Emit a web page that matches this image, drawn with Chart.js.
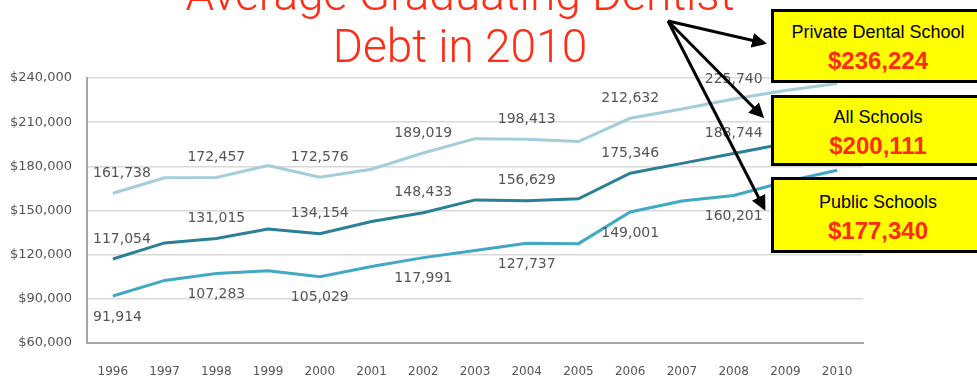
<!DOCTYPE html>
<html>
<head>
<meta charset="utf-8">
<script src="https://cdn.jsdelivr.net/npm/chart.js@4/dist/chart.umd.min.js"></script>
<style>
  html, body { margin: 0; padding: 0; background: #fff; }
  #wrap { position: relative; width: 977px; height: 378px; overflow: hidden; }
  #chart { position: absolute; left: 0; top: 0; }
  .title {
    position: absolute; left: 0; width: 920px; text-align: center;
    font-family: Roboto, 'Liberation Sans', sans-serif; font-weight: 300;
    font-size: 46px; color: #ff2d16; line-height: 52px; white-space: nowrap;
  }
  .box {
    position: absolute; left: 771px; width: 214px; background: #ffff00;
    border: 3px solid #000; box-sizing: border-box; text-align: center;
    font-family: 'Liberation Sans', Arial, sans-serif;
  }
  .box .name { font-size: 18px; color: #000; }
  .box .val { font-size: 24px; font-weight: bold; color: #ff2a10; }
  svg { position: absolute; left: 0; top: 0; }
</style>
</head>
<body>
<div id="wrap">
  <canvas id="chart" width="977" height="378"></canvas>
  <div class="title" style="top:-32px">Average Graduating Dentist</div>
  <div class="title" style="top:20px">Debt in 2010</div>
  <svg width="977" height="378">
    <defs>
      <marker id="ah" markerWidth="5" markerHeight="5" refX="4" refY="2.5" orient="auto" markerUnits="strokeWidth">
        <path d="M0,0 L5,2.5 L0,5 z" fill="#000"/>
      </marker>
    </defs>
    <g stroke="#000" stroke-width="3" fill="none" marker-end="url(#ah)">
      <line x1="668" y1="21" x2="764" y2="43"/>
      <line x1="668" y1="21" x2="762" y2="116"/>
      <line x1="668" y1="21" x2="764" y2="208"/>
    </g>
  </svg>
  <div class="box" style="top:9px;height:74px;padding-top:10px">
    <div class="name">Private Dental School</div>
    <div class="val" style="margin-top:4px">$236,224</div>
  </div>
  <div class="box" style="top:95px;height:71px;padding-top:9px">
    <div class="name">All Schools</div>
    <div class="val" style="margin-top:4px">$200,111</div>
  </div>
  <div class="box" style="top:177px;height:76px;padding-top:12px">
    <div class="name">Public Schools</div>
    <div class="val" style="margin-top:4px">$177,340</div>
  </div>
</div>
<script>
const years = ['1996', '1997', '1998', '1999', '2000', '2001', '2002', '2003',
  '2004', '2005', '2006', '2007', '2008', '2009', '2010'];
const privateDebt = [161738, 172200, 172457, 180500, 172576, 178000, 189019, 198800,
  198413, 196800, 212632, 219000, 225740, 231500, 236224];
const allDebt = [117054, 128000, 131015, 137500, 134154, 142500, 148433, 157200,
  156629, 158000, 175346, 182000, 188744, 195500, 200111];
const publicDebt = [91914, 102500, 107283, 109000, 105029, 112000, 117991, 122800,
  127737, 127500, 149001, 156500, 160201, 169500, 177340];
const labelledYears = ['1996', '1998', '2000', '2002', '2004', '2006', '2008'];
const yTicks = [60000, 90000, 120000, 150000, 180000, 210000, 240000];

const GRAY = '#555555';

// data labels drawn next to the points of the labelled years
const pointLabels = {
  id: 'pointLabels',
  afterDatasetsDraw(chart) {
    const ctx = chart.ctx;
    const area = chart.chartArea;
    ctx.save();
    ctx.font = '14px "DejaVu Sans", sans-serif';
    ctx.fillStyle = GRAY;
    ctx.textBaseline = 'middle';
    chart.data.datasets.forEach((ds, di) => {
      const meta = chart.getDatasetMeta(di);
      meta.data.forEach((pt, i) => {
        if (!labelledYears.includes(years[i])) return;
        const text = ds.data[i].toLocaleString('en-US');
        const w = ctx.measureText(text).width;
        let x = pt.x - w / 2;
        if (x < area.left + 6) x = area.left + 6;
        ctx.textAlign = 'left';
        ctx.fillText(text, x, pt.y + ds.labelShift);
      });
    });
    ctx.restore();
  },
};

new Chart(document.getElementById('chart'), {
  type: 'line',
  data: {
    labels: years,
    datasets: [
      { label: 'Private', data: privateDebt, borderColor: '#a3cdd9', labelShift: -20 },
      { label: 'All', data: allDebt, borderColor: '#2b7f96', labelShift: -20 },
      { label: 'Public', data: publicDebt, borderColor: '#42a9c5', labelShift: 21 },
    ],
  },
  options: {
    responsive: false,
    animation: false,
    events: [],
    layout: { padding: { top: 78, right: 114, bottom: 0, left: 0 } },
    elements: {
      line: { borderWidth: 3, tension: 0 },
      point: { radius: 0 },
    },
    plugins: { legend: { display: false }, tooltip: { enabled: false } },
    scales: {
      x: {
        offset: true,
        grid: { display: false },
        border: { color: '#a6a6a6', width: 2 },
        ticks: {
          color: GRAY, padding: 14, maxRotation: 0,
          font: { family: 'DejaVu Sans', size: 12 },
        },
        afterFit: (s) => { s.height = 35; },
      },
      y: {
        min: 60000,
        max: 240000,
        afterBuildTicks: (s) => { s.ticks = yTicks.map(v => ({ value: v })); },
        grid: { color: '#d9d9d9', lineWidth: 1.5, drawTicks: false },
        border: { color: '#a6a6a6', width: 2 },
        ticks: {
          color: GRAY, padding: 15,
          font: { family: 'DejaVu Sans', size: 13 },
          callback: (v) => '$' + v.toLocaleString('en-US'),
        },
        afterFit: (s) => { s.width = 87; },
      },
    },
  },
  plugins: [pointLabels],
});
</script>
</body>
</html>
